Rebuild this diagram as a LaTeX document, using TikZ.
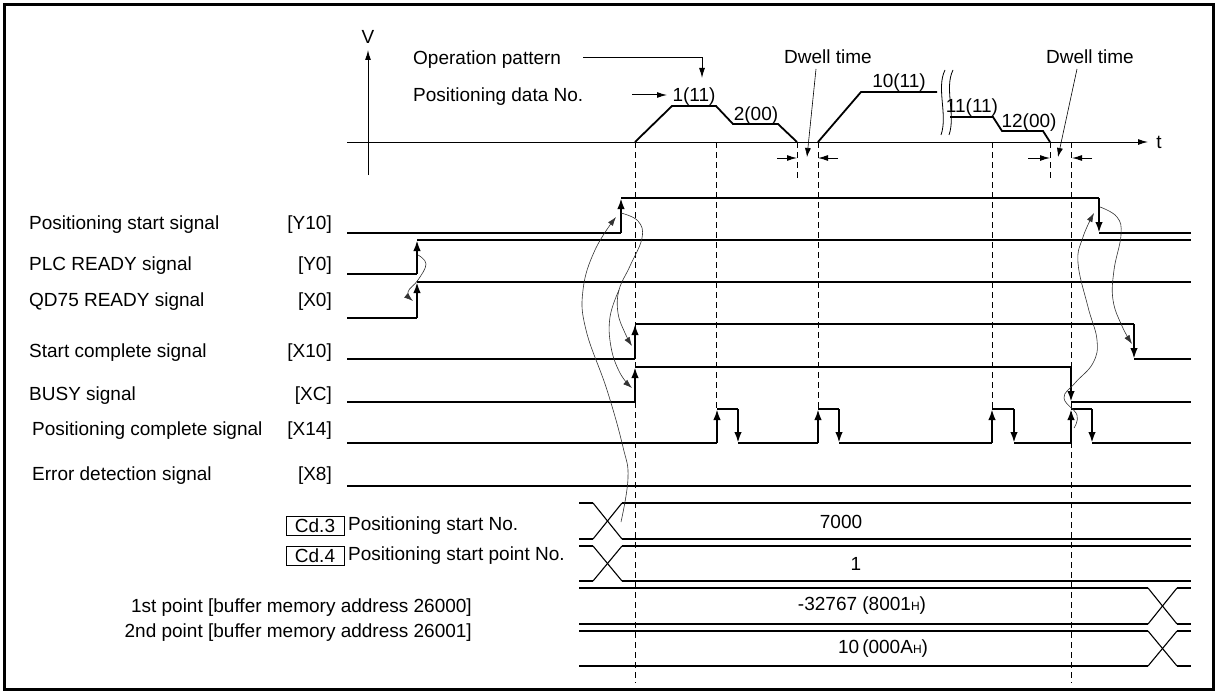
\documentclass[tikz,border=0pt]{standalone}
\usepackage{fontspec}
\setmainfont{Liberation Sans}
\usetikzlibrary{arrows.meta}
\begin{document}
\begin{tikzpicture}[x=1pt,y=-1pt,
  every node/.style={font=\fontsize{19}{22}\selectfont, inner sep=0pt},
  sig/.style={line width=2.2pt},
  edge/.style={line width=2.2pt,-{Latex[length=11pt,width=7.5pt]}},
  carr/.style={line width=0.6pt, draw=black!80,-{Latex[length=9pt,width=6pt]}},
  dsh/.style={line width=0.9pt, dash pattern=on 6pt off 4pt},
  axarr/.style={line width=1pt,-{Latex[length=10pt,width=6pt]}},
  prof/.style={line width=1.8pt},
  bus/.style={line width=2pt},
  diag/.style={line width=1.1pt},
  lbl/.style={anchor=base west},
  tag/.style={anchor=base east}
]
\useasboundingbox (0,0) rectangle (1216,693);
% frame
\draw[line width=3pt] (4.5,5) rectangle (1213.5,689.5);

% ---------- velocity chart ----------
\draw[axarr] (368,175) -- (368,50);
\node (V) at (368,37) {V};
\draw[axarr] (347,142) -- (1148,142);
\node (t) at (1159,142) {t};

\node[lbl] (oppat) at (413,65) {Operation pattern};
\node[lbl] (posno) at (413,102) {Positioning data No.};
\coordinate (opc) at (702,78);
\draw[axarr] (583,58) -| (opc);
\draw[axarr] (632,95) -- (667,95);

\draw[prof] (635,142) -- (672,106) -- (716,106) -- (733,124) -- (778,124) -- (797,142);
\draw[prof] (818,142) -- (861,92) -- (937,92);
\draw[prof] (950,117) -- (993,117) -- (1002,131) -- (1043,131) -- (1050,142);
% break marks
\draw[line width=0.8pt] (945,70) .. controls (936,88) and (948,115) .. (941,135);
\draw[line width=0.8pt] (953,70) .. controls (944,88) and (956,115) .. (949,135);

\node[anchor=base] (d1) at (694,102) {1(11)};
\node[anchor=base] (d2) at (756,120) {2(00)};
\node[anchor=base] (d10) at (899,88) {10(11)};
\node[anchor=base] (d11) at (972,113) {11(11)};
\node[anchor=base] (d12) at (1029,127) {12(00)};

% dwell
\node[anchor=base] (dw1) at (828,64) {Dwell time};
\node[anchor=base] (dw2) at (1090,64) {Dwell time};
\draw[carr,draw=black] (816,69) -- (807,157);
\draw[carr,draw=black] (1077,69) -- (1058,157);
\draw[axarr] (777,158) -- (797,158);
\draw[axarr] (838,158) -- (818,158);
\draw[axarr] (1028,158) -- (1050,158);
\draw[axarr] (1092,158) -- (1072,158);

% dashed guides
\draw[dsh] (635,142) -- (635,683);
\draw[dsh] (716,142) -- (716,409);
\draw[dsh] (797,142) -- (797,178);
\draw[dsh] (818,142) -- (818,409);
\draw[dsh] (992,142) -- (992,409);
\draw[dsh] (1050,142) -- (1050,178);
\draw[dsh] (1071,142) -- (1071,683);

% ---------- signal labels ----------
\node[lbl] (ly10) at (29,229) {Positioning start signal};
\node[lbl] (ly0)  at (29,270) {PLC READY signal};
\node[lbl] (lx0)  at (29,306) {QD75 READY signal};
\node[lbl] (lx10) at (29,357) {Start complete signal};
\node[lbl] (lxc)  at (29,400) {BUSY signal};
\node[lbl] (lx14) at (32,435) {Positioning complete signal};
\node[lbl] (lx8)  at (32,480) {Error detection signal};
\node[tag] (ty10) at (332,229) {[Y10]};
\node[tag] (ty0)  at (332,270) {[Y0]};
\node[tag] (tx0)  at (332,306) {[X0]};
\node[tag] (tx10) at (332,357) {[X10]};
\node[tag] (txc)  at (332,400) {[XC]};
\node[tag] (tx14) at (332,435) {[X14]};
\node[tag] (tx8)  at (332,480) {[X8]};

% ---------- signals ----------
% Y10
\draw[sig] (347,233) -- (621,233);
\draw[edge] (621,233) -- (621,198);
\draw[sig] (621,198) -- (1099,198);
\draw[edge] (1099,198) -- (1099,233);
\draw[sig] (1099,233) -- (1191,233);
% Y0
\draw[sig] (347,274) -- (417,274);
\draw[edge] (417,274) -- (417,240);
\draw[sig] (417,240) -- (1191,240);
% X0
\draw[sig] (347,318) -- (417,318);
\draw[edge] (417,318) -- (417,282);
\draw[sig] (417,282) -- (1191,282);
% X10
\draw[sig] (347,359) -- (635,359);
\draw[edge] (635,359) -- (635,324);
\draw[sig] (635,324) -- (1134,324);
\draw[edge] (1134,324) -- (1134,359);
\draw[sig] (1134,359) -- (1191,359);
% XC
\draw[sig] (347,402) -- (635,402);
\draw[edge] (635,402) -- (635,367);
\draw[sig] (635,367) -- (1071,367);
\draw[edge] (1071,367) -- (1071,402);
\draw[sig] (1071,402) -- (1191,402);
% X14
\draw[sig] (347,443) -- (717,443);
\draw[sig] (738,443) -- (818,443);
\draw[sig] (839,443) -- (992,443);
\draw[sig] (1014,443) -- (1071,443);
\draw[sig] (1092,443) -- (1191,443);
\foreach \a/\b in {717/738, 818/839, 992/1014, 1071/1092} {
  \draw[edge] (\a,443) -- (\a,409);
  \draw[sig] (\a,409) -- (\b,409);
  \draw[edge] (\b,409) -- (\b,443);
}
% X8
\draw[sig] (347,486) -- (1191,486);

% ---------- buffer memory ----------
\node[draw, line width=0.8pt, minimum width=58pt, minimum height=19pt] (cd3) at (315,526) {Cd.3};
\node[anchor=west] (cd3t) at (348,526) {Positioning start No.};
\node[draw, line width=0.8pt, minimum width=58pt, minimum height=19pt] (cd4) at (315,556) {Cd.4};
\node[anchor=west] (cd4t) at (348,556) {Positioning start point No.};
\node[anchor=base east] (p1) at (472,612) {1st point [buffer memory address 26000]};
\node[anchor=base east] (p2) at (472,637) {2nd point [buffer memory address 26001]};

% Cd.3 bus
\draw[bus] (579,503) -- (593,503);  \draw[bus] (579,539) -- (593,539);
\draw[diag] (593,503) -- (622,539); \draw[diag] (593,539) -- (622,503);
\draw[bus] (622,503) -- (1191,503); \draw[bus] (622,539) -- (1191,539);
\node (v7000) at (841,522) {7000};
% Cd.4 bus
\draw[bus] (579,546) -- (593,546);  \draw[bus] (579,581) -- (593,581);
\draw[diag] (593,546) -- (622,581); \draw[diag] (593,581) -- (622,546);
\draw[bus] (622,546) -- (1191,546); \draw[bus] (622,581) -- (1191,581);
\node (v1) at (856,564) {1};
% 1st point bus
\draw[bus] (579,588) -- (1148,588); \draw[bus] (579,624) -- (1148,624);
\draw[diag] (1148,588) -- (1177,624); \draw[diag] (1148,624) -- (1177,588);
\draw[bus] (1177,588) -- (1191,588); \draw[bus] (1177,624) -- (1191,624);
\node (v32767) at (862,606) {-32767 (8001{\fontsize{12}{12}\selectfont H})};
% 2nd point bus
\draw[bus] (579,631) -- (1148,631); \draw[bus] (579,666) -- (1148,666);
\draw[diag] (1148,631) -- (1177,666); \draw[diag] (1148,666) -- (1177,631);
\draw[bus] (1177,631) -- (1191,631); \draw[bus] (1177,666) -- (1191,666);
\node (v10) at (883,649) {10\,(000A{\fontsize{12}{12}\selectfont H})};

% ---------- causal curves ----------
\draw[carr] plot[smooth, tension=0.7] coordinates {(418,255) (426,264) (418,280) (408,292) (413,301)};
\draw[carr] plot[smooth, tension=0.7] coordinates {(621,213) (638,221) (642,238) (630,266) (619,290) (618,313) (625,333) (632,346)};
\draw[carr] plot[smooth, tension=0.7] coordinates {(619,290) (610,317) (611,347) (620,373) (632,388)};
\draw[carr] plot[smooth, tension=0.7] coordinates {(621,522) (628,478) (623,447) (607,390) (586,330) (583,290) (595,250) (616,217)};
\draw[carr] plot[smooth, tension=0.7] coordinates {(1100,207) (1117,217) (1121,235) (1114,270) (1113,300) (1122,326) (1132,344)};
\draw[carr] plot[smooth, tension=0.7] coordinates {(1074,428) (1077,415) (1064,398) (1075,383) (1093,363) (1097,340) (1088,307) (1078,263) (1083,237) (1094,213)};
\end{tikzpicture}
\end{document}
